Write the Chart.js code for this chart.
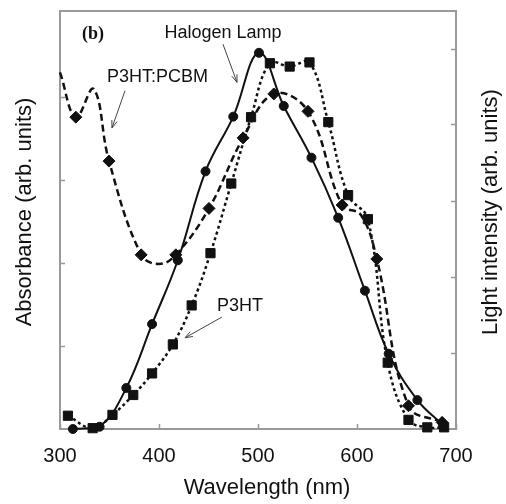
<!DOCTYPE html>
<html>
<head>
<meta charset="utf-8">
<script src="https://cdn.jsdelivr.net/npm/chart.js@4.4.1/dist/chart.umd.min.js"></script>
<style>
  html, body { margin: 0; padding: 0; background: #ffffff; }
  #wrap { width: 506px; height: 504px; }
</style>
</head>
<body>
<div id="wrap"><canvas id="spectra" width="506" height="504"></canvas></div>
<script>
// Wavelength axis
const wavelengthTicks = [300, 400, 500, 600, 700];
const absorbanceTicks = [1, 2, 3, 4];
const intensityTicks = [1, 2, 3, 4, 5];

// Halogen lamp emission (right axis, arb. units)
const halogenWl  = [313, 340, 367, 393, 419, 447, 475, 501, 526, 554, 581, 608, 632, 661, 687];
const halogenVal = [0.0, 0.03, 0.54, 1.38, 2.22, 3.39, 4.11, 4.95, 4.25, 3.57, 2.78, 1.82, 0.99, 0.38, 0.05];

// P3HT:PCBM blend absorbance (left axis, arb. units)
const blendWl     = [300, 316, 334, 349.5, 382, 400, 417, 450.5, 485, 516, 550.5, 585, 604, 620, 652, 686];
const blendVal    = [4.30, 3.76, 4.10, 3.23, 2.10, 1.99, 2.10, 2.66, 3.51, 4.04, 3.83, 2.70, 2.58, 2.05, 0.28, 0.08];
const blendMarked = [false, true, false, true, true, false, true, true, true, true, true, true, false, true, true, true];

// Pristine P3HT absorbance (left axis, arb. units)
const p3htWl  = [308, 333, 353, 374, 393, 414, 433, 452, 473, 493, 512, 532, 552, 571, 591, 611, 631, 652, 671, 688];
const p3htVal = [0.16, 0.01, 0.17, 0.41, 0.67, 1.02, 1.49, 2.12, 2.96, 3.76, 4.41, 4.37, 4.42, 3.70, 2.82, 2.53, 0.80, 0.11, 0.02, 0.02];

const pairs = (xs, ys) => xs.map((x, i) => ({ x: x, y: ys[i] }));

const INK = '#111111';
const FRAME = '#9a9a9a';
const SANS = '"Liberation Sans", Arial, sans-serif';

// Callouts placed in data units (wavelength, absorbance)
const callouts = [
  { text: 'Halogen Lamp', at: [464.6, 4.72], from: [464.6, 4.64], to: [478.8, 4.18] },
  { text: 'P3HT:PCBM',    at: [398.5, 4.18], from: [365.7, 4.08], to: [352.5, 3.63] },
  { text: 'P3HT',         at: [481.8, 1.42], from: [463.6, 1.35], to: [426.3, 1.10] }
];

const calloutPlugin = {
  id: 'callouts',
  afterDatasetsDraw(chart) {
    const { ctx, scales: { x, y } } = chart;
    ctx.save();
    // panel tag
    ctx.fillStyle = INK;
    ctx.font = 'bold 18px "Liberation Serif", "Times New Roman", serif';
    ctx.textAlign = 'center';
    ctx.textBaseline = 'middle';
    ctx.fillText('(b)', x.getPixelForValue(333.3), y.getPixelForValue(4.76));

    ctx.font = '18px ' + SANS;
    ctx.textBaseline = 'alphabetic';
    callouts.forEach(c => {
      ctx.fillStyle = INK;
      ctx.fillText(c.text, x.getPixelForValue(c.at[0]), y.getPixelForValue(c.at[1]));
      const x1 = x.getPixelForValue(c.from[0]), y1 = y.getPixelForValue(c.from[1]);
      const x2 = x.getPixelForValue(c.to[0]),   y2 = y.getPixelForValue(c.to[1]);
      ctx.strokeStyle = '#444444';
      ctx.lineWidth = 1;
      ctx.beginPath();
      ctx.moveTo(x1, y1);
      ctx.lineTo(x2, y2);
      const ang = Math.atan2(y2 - y1, x2 - x1);
      const head = 8, spread = 0.35;
      ctx.moveTo(x2, y2);
      ctx.lineTo(x2 - head * Math.cos(ang - spread), y2 - head * Math.sin(ang - spread));
      ctx.moveTo(x2, y2);
      ctx.lineTo(x2 - head * Math.cos(ang + spread), y2 - head * Math.sin(ang + spread));
      ctx.stroke();
    });
    ctx.restore();
  }
};

// Axis titles; the right-hand title reads bottom-to-top like the left one
const axisTitlePlugin = {
  id: 'axisTitles',
  afterDraw(chart) {
    const { ctx, chartArea } = chart;
    const midY = (chartArea.top + chartArea.bottom) / 2;
    const drawVertical = (text, cx, cy) => {
      ctx.save();
      ctx.translate(cx, cy);
      ctx.rotate(-Math.PI / 2);
      ctx.fillText(text, 0, 0);
      ctx.restore();
    };
    ctx.save();
    ctx.fillStyle = INK;
    ctx.font = '22px ' + SANS;
    ctx.textAlign = 'center';
    ctx.textBaseline = 'middle';
    ctx.fillText('Wavelength (nm)', 267, 488);
    drawVertical('Absorbance (arb. units)', 25, midY - 8);
    drawVertical('Light intensity (arb. units)', 491, midY - 8);
    ctx.restore();
  }
};

const innerTicks = { drawOnChartArea: false, drawTicks: true, tickLength: -5, color: FRAME, tickWidth: 1.5 };
const frameBorder = { display: true, color: FRAME, width: 2 };

new Chart(document.getElementById('spectra'), {
  type: 'line',
  data: {
    datasets: [
      {
        label: 'Halogen Lamp',
        data: pairs(halogenWl, halogenVal),
        yAxisID: 'y2',
        borderColor: INK,
        backgroundColor: INK,
        borderWidth: 2,
        pointStyle: 'circle',
        pointRadius: 4.5,
        pointBorderWidth: 1,
        tension: 0.4,
        clip: 8
      },
      {
        label: 'P3HT:PCBM',
        data: pairs(blendWl, blendVal),
        yAxisID: 'y',
        borderColor: INK,
        backgroundColor: INK,
        borderWidth: 2.5,
        borderDash: [7, 4],
        pointStyle: 'rectRot',
        pointRadius: blendMarked.map(m => (m ? 6 : 0)),
        pointBorderWidth: 1,
        tension: 0.4,
        clip: 8
      },
      {
        label: 'P3HT',
        data: pairs(p3htWl, p3htVal),
        yAxisID: 'y',
        borderColor: INK,
        backgroundColor: INK,
        borderWidth: 2.5,
        borderDash: [3, 3],
        pointStyle: 'rect',
        pointRadius: 6.5,
        pointBorderWidth: 1,
        tension: 0.4,
        clip: 8
      }
    ]
  },
  options: {
    responsive: false,
    animation: false,
    devicePixelRatio: 1,
    layout: { padding: { top: 11, left: 0, right: 0, bottom: 0 } },
    plugins: { legend: { display: false }, tooltip: { enabled: false } },
    elements: { line: { fill: false } },
    scales: {
      x: {
        type: 'linear', position: 'bottom', min: 300, max: 700,
        afterBuildTicks: s => { s.ticks = wavelengthTicks.map(v => ({ value: v })); },
        ticks: { color: INK, font: { family: SANS, size: 20 }, padding: 20, maxRotation: 0 },
        grid: innerTicks, border: frameBorder,
        afterFit: s => { s.height = 75; }
      },
      xTop: {
        type: 'linear', position: 'top', min: 300, max: 700,
        ticks: { display: false }, grid: { display: false }, border: frameBorder,
        afterFit: s => { s.height = 0; }
      },
      y: {
        type: 'linear', position: 'left', min: 0, max: 5.04,
        afterBuildTicks: s => { s.ticks = absorbanceTicks.map(v => ({ value: v })); },
        ticks: { display: false }, grid: innerTicks, border: frameBorder,
        afterFit: s => { s.width = 60; }
      },
      y2: {
        type: 'linear', position: 'right', min: 0, max: 5.5,
        afterBuildTicks: s => { s.ticks = intensityTicks.map(v => ({ value: v })); },
        ticks: { display: false }, grid: innerTicks, border: frameBorder,
        afterFit: s => { s.width = 50; }
      }
    }
  },
  plugins: [calloutPlugin, axisTitlePlugin]
});
</script>
</body>
</html>
